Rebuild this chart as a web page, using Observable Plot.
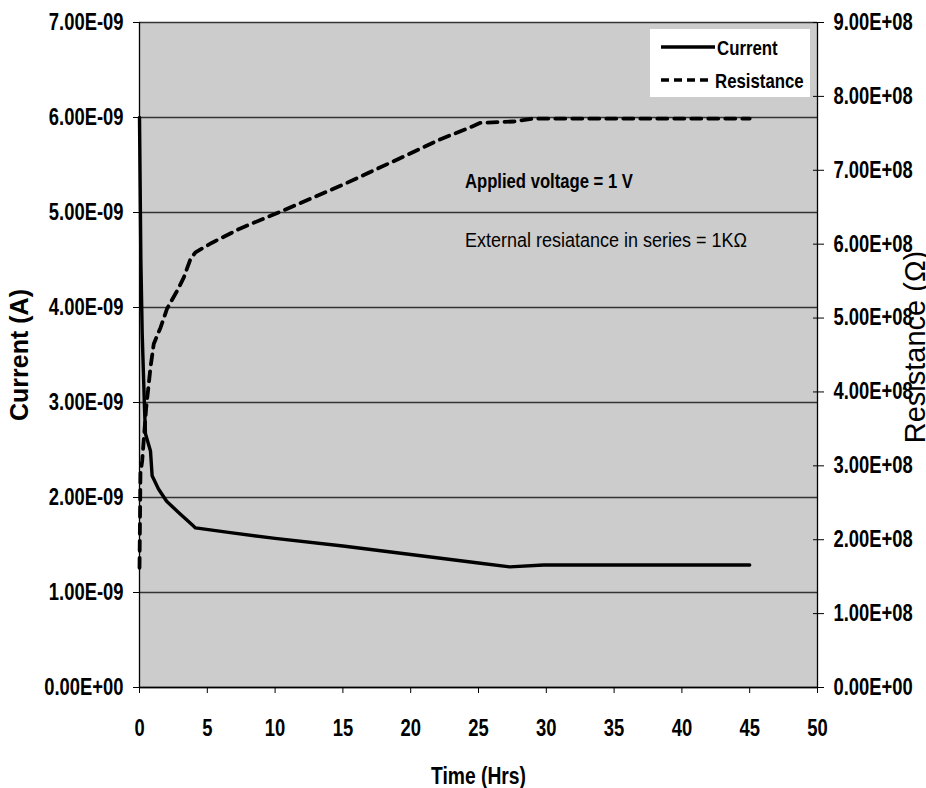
<!DOCTYPE html>
<html>
<head>
<meta charset="utf-8">
<script src="https://cdn.jsdelivr.net/npm/d3@7"></script>
<script src="https://cdn.jsdelivr.net/npm/@observablehq/plot@0.6"></script>
<style>
  html, body { margin: 0; padding: 0; background: white; }
  #wrap { position: relative; width: 926px; height: 788px; }
  #legend { position: absolute; left: 650px; top: 29px; }
</style>
</head>
<body>
<div id="wrap"></div>
<script>
// ---- Data ----
const currentTime = [0, 0.1, 0.2, 0.37, 0.44, 0.81, 0.93, 1.4, 2.0, 2.9, 3.9, 4.13, 6.7, 10, 15, 20, 25, 27.3, 29.8, 35, 40, 45];
const currentA = [6.0e-9, 4.5e-9, 3.72e-9, 2.94e-9, 2.67e-9, 2.49e-9, 2.23e-9, 2.09e-9, 1.96e-9, 1.84e-9, 1.71e-9, 1.68e-9, 1.63e-9, 1.57e-9, 1.49e-9, 1.40e-9, 1.31e-9, 1.27e-9, 1.29e-9, 1.29e-9, 1.29e-9, 1.29e-9];

const resTime = [0, 0.07, 0.2, 0.49, 0.81, 1.05, 1.55, 2.04, 2.78, 3.27, 3.76, 4.13, 5.36, 7.4, 10.9, 15.3, 20, 22.2, 24.5, 25.1, 27.6, 29, 35, 40, 45];
const resOhm = [1.62e8, 2.9e8, 3.07e8, 3.78e8, 4.33e8, 4.65e8, 4.87e8, 5.13e8, 5.37e8, 5.55e8, 5.80e8, 5.89e8, 6.02e8, 6.21e8, 6.48e8, 6.83e8, 7.23e8, 7.42e8, 7.59e8, 7.64e8, 7.66e8, 7.70e8, 7.70e8, 7.70e8, 7.70e8];

const timeTicks = [0, 5, 10, 15, 20, 25, 30, 35, 40, 45, 50];
const currentTicks = [0, 1e-9, 2e-9, 3e-9, 4e-9, 5e-9, 6e-9, 7e-9];
const resistanceTicks = [0, 1e8, 2e8, 3e8, 4e8, 5e8, 6e8, 7e8, 8e8, 9e8];

const notes = ["Applied voltage = 1 V", "External resiatance in series = 1K\u03A9"];
const noteTime = [24.0, 24.0];
const noteCurrent = [5.26e-9, 4.64e-9];

const seriesNames = ["Current", "Resistance"];

// ---- Build tables ----
const curMax = 7e-9, resMax = 9e8;
const k = curMax / resMax; // maps resistance onto the current scale

const currentData = currentTime.map((t, i) => ({t, v: currentA[i]}));
const resData = resTime.map((t, i) => ({t, r: resOhm[i]}));
const noteData = notes.map((s, i) => ({s, t: noteTime[i], v: noteCurrent[i]}));

function sci(v) {
  if (Math.abs(v) < 1e-30) return "0.00E+00";
  const [m, e] = v.toExponential(2).split("e");
  const n = +e;
  return m + "E" + (n < 0 ? "-" : "+") + String(Math.abs(n)).padStart(2, "0");
}

const FONT = '"Liberation Sans", Arial, Helvetica, sans-serif';

const chart = Plot.plot({
  width: 926,
  height: 788,
  marginLeft: 139,
  marginRight: 109,
  marginTop: 22,
  marginBottom: 101,
  style: {background: "white", color: "black", overflow: "visible", fontFamily: FONT},
  x: {domain: [0, 50], axis: null},
  y: {domain: [0, curMax], axis: null},
  marks: [
    Plot.frame({fill: "#cccccc", stroke: null}),
    Plot.gridY(currentTicks, {stroke: "#333333", strokeOpacity: 1, strokeWidth: 1.3}),
    Plot.ruleX([0, 50], {stroke: "black", strokeWidth: 1.3}),
    Plot.ruleY([0], {stroke: "black", strokeWidth: 1.3}),
    Plot.axisY(currentTicks, {anchor: "left", tickSize: 6, tickPadding: 10, tickFormat: sci, label: null,
      fontFamily: FONT, fontWeight: "bold", fontSize: 23, fill: "black"}),
    Plot.axisY(resistanceTicks.map(r => r * k), {anchor: "right", tickSize: 11, dx: -5, tickPadding: 10,
      tickFormat: v => sci(v / k), label: null,
      fontFamily: FONT, fontWeight: "bold", fontSize: 23, fill: "black"}),
    Plot.axisX(timeTicks, {anchor: "bottom", tickSize: 6, tickPadding: 26, label: null,
      fontFamily: FONT, fontWeight: "bold", fontSize: 23, fill: "black"}),
    Plot.line(resData, {x: "t", y: d => d.r * k, stroke: "black", strokeWidth: 3.8, strokeDasharray: "10,7"}),
    Plot.line(currentData, {x: "t", y: "v", stroke: "black", strokeWidth: 3.4}),
    Plot.text(noteData.slice(0, 1), {x: "t", y: "v", text: "s", textAnchor: "start", lineAnchor: "bottom",
      className: "note-bold", fontWeight: "bold", fontSize: 20, fill: "black"}),
    Plot.text(noteData.slice(1), {x: "t", y: "v", text: "s", textAnchor: "start", lineAnchor: "bottom",
      className: "note-regular", fontSize: 20.5, fill: "black"}),
    Plot.text(["Current (A)"], {frameAnchor: "left", rotate: -90, dx: -129, lineAnchor: "top", textAnchor: "middle",
      fontWeight: "bold", fontSize: 25, fill: "black"}),
    Plot.text(["Resistance (\u03A9)"], {frameAnchor: "right", rotate: -90, dx: 107, dy: -8, lineAnchor: "bottom", textAnchor: "middle",
      fontSize: 29, fill: "black"}),
    Plot.text(["Time (Hrs)"], {frameAnchor: "bottom", dy: 96, lineAnchor: "bottom", textAnchor: "middle",
      className: "x-title", fontWeight: "bold", fontSize: 23, fill: "black"})
  ]
});

const wrap = document.getElementById("wrap");
wrap.appendChild(chart);

// ---- Legend (overlay) ----
const lg = d3.select(wrap).append("svg").attr("id", "legend")
  .attr("width", 160).attr("height", 68);
lg.append("rect").attr("width", 160).attr("height", 68).attr("fill", "white");
const rows = [
  {name: seriesNames[0], dash: null, y: 18},
  {name: seriesNames[1], dash: "8,5", y: 51}
];
rows.forEach(r => {
  lg.append("line").attr("x1", 11).attr("x2", r.dash ? 62 : 65).attr("y1", r.y).attr("y2", r.y)
    .attr("stroke", "black").attr("stroke-width", 3.5).attr("stroke-dasharray", r.dash);
  lg.append("text").attr("class", "legend-text").attr("x", r.dash ? 65 : 67).attr("y", r.y + 8)
    .attr("font-family", FONT).attr("font-weight", "bold")
    .attr("font-size", 21).attr("fill", "black").text(r.name);
});

// ---- Narrow the condensed-looking texts (the reference uses a narrow face) ----
function squeeze(nodes, f) {
  nodes.forEach(t => {
    const w = t.getComputedTextLength();
    t.setAttribute("textLength", (w * f).toFixed(1));
    t.setAttribute("lengthAdjust", "spacingAndGlyphs");
  });
}
function fitWidth(nodes, width) {
  nodes.forEach(t => {
    t.setAttribute("textLength", String(width));
    t.setAttribute("lengthAdjust", "spacingAndGlyphs");
  });
}
function pick(name) {
  return wrap.querySelectorAll(`g[aria-label="${name}"] text, text[aria-label="${name}"], .${name} text, text.${name}`);
}
const svg = wrap.querySelector("svg");
squeeze(svg.querySelectorAll('g[aria-label="y-axis tick label"] text'), 0.8);
squeeze(svg.querySelectorAll('g[aria-label="x-axis tick label"] text'), 0.8);
fitWidth(pick("note-bold"), 168);
fitWidth(pick("note-regular"), 282);
fitWidth(pick("x-title"), 95);
squeeze(wrap.querySelectorAll('#legend text'), 0.8);
</script>
</body>
</html>
